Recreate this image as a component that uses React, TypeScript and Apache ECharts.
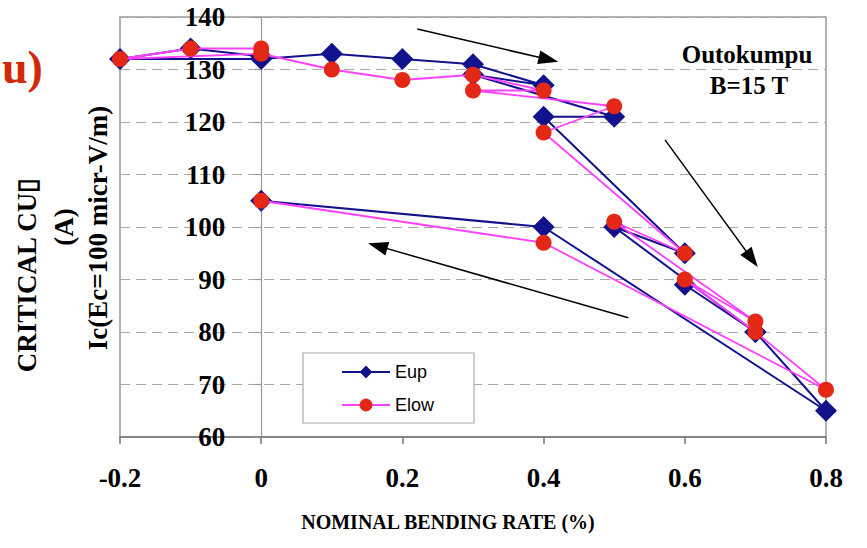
import React, { useEffect, useRef } from "react";
import * as echarts from "echarts";

// Measurement order (bending rate %, critical current A)
const eupX = [0, -0.1, -0.2, 0, 0.1, 0.2, 0.3, 0.4, 0.3, 0.5, 0.4, 0.6, 0.5, 0.7, 0.6, 0.7, 0.8, 0.4, 0];
const eupY = [132.5, 134, 132, 132, 133, 132, 131, 127, 129, 121, 121, 95, 100, 80, 89, 80, 65, 100, 105];
const elowX = [0, -0.1, -0.2, 0, 0.1, 0.2, 0.3, 0.4, 0.3, 0.5, 0.4, 0.6, 0.5, 0.7, 0.6, 0.7, 0.8, 0.4, 0];
const elowY = [134, 134, 132, 133, 130, 128, 129, 126, 126, 123, 118, 95, 101, 82, 90, 80, 69, 97, 105];

const xTicks = [-0.2, 0, 0.2, 0.4, 0.6, 0.8];
const xTickLabels = ["-0.2", "0", "0.2", "0.4", "0.6", "0.8"];
const yTicks = [60, 70, 80, 90, 100, 110, 120, 130, 140];

// Arrow annotations: tails and arrowhead centres in data units
const arrowTails = [
  [0.221, 137.7],
  [0.572, 116.6],
  [0.52, 82.7],
];
const arrowHeads = [
  [0.407, 131.9],
  [0.695, 93.9],
  [0.165, 96.4],
];

const SERIF = "'Liberation Serif', 'Times New Roman', serif";

const GRID_LEFT = 120;
const GRID_WIDTH = 706;

export default function App() {
  const ref = useRef<HTMLDivElement>(null);
  useEffect(() => {
    if (!ref.current) return;
    const chart = echarts.init(ref.current, null, { renderer: "svg" });
    const pairs = (xs: number[], ys: number[]) => xs.map((x, i) => [x, ys[i]]);
    const xMin = xTicks[0];
    const xMax = xTicks[xTicks.length - 1];
    // shift y axis so it sits on x = 0 (as in Excel crossing)
    const zeroOffset = ((0 - xMin) / (xMax - xMin)) * GRID_WIDTH;
    const centered = (text: string, x: number, y: number, size: number, extra: any = {}) => ({
      type: "text",
      x,
      y,
      ...extra,
      style: {
        text,
        fontFamily: SERIF,
        fontWeight: "bold",
        fontSize: size,
        fill: "#000",
        textAlign: "center",
        textVerticalAlign: "middle",
        align: "center",
        verticalAlign: "middle",
      },
    });
    const option: any = {
      animation: false,
      backgroundColor: "#fff",
      grid: {
        left: GRID_LEFT,
        top: 17,
        width: GRID_WIDTH,
        height: 420,
        show: true,
        borderColor: "#999",
        borderWidth: 1.5,
        backgroundColor: "transparent",
      },
      xAxis: {
        type: "value",
        min: xMin,
        max: xMax,
        interval: 0.2,
        axisLine: { show: true, onZero: false, lineStyle: { color: "#777", width: 1.5 } },
        axisTick: { show: true, length: 7, lineStyle: { color: "#777", width: 1.5 } },
        splitLine: { show: false },
        axisLabel: {
          margin: 27,
          fontFamily: SERIF,
          fontWeight: "bold",
          fontSize: 27,
          color: "#000",
          formatter: (v: number) => {
            const idx = xTicks.findIndex((t) => Math.abs(t - v) < 1e-6);
            return idx >= 0 ? xTickLabels[idx] : "";
          },
        },
      },
      yAxis: {
        type: "value",
        position: "left",
        offset: -zeroOffset,
        min: yTicks[0],
        max: yTicks[yTicks.length - 1],
        interval: 10,
        axisLine: { show: true, onZero: false, lineStyle: { color: "#999", width: 1.2 } },
        axisTick: { show: true, length: 7, lineStyle: { color: "#999", width: 1.2 } },
        splitLine: { show: true, lineStyle: { color: "#a8a8a8", width: 1.2, type: [10, 6] } },
        axisLabel: {
          margin: 36,
          fontFamily: SERIF,
          fontWeight: "bold",
          fontSize: 27,
          color: "#000",
        },
      },
      legend: {
        data: ["Eup", "Elow"],
        orient: "vertical",
        left: 303,
        top: 353,
        itemWidth: 48,
        itemHeight: 16,
        itemGap: 15,
        padding: [10, 40, 9, 38],
        backgroundColor: "#fff",
        borderColor: "#aaa",
        borderWidth: 1.2,
        textStyle: { fontFamily: "'Liberation Sans', Arial, sans-serif", fontSize: 18, color: "#000" },
      },
      series: [
        {
          name: "Eup",
          type: "line",
          data: pairs(eupX, eupY),
          symbol: "diamond",
          symbolSize: 22,
          itemStyle: { color: "#12128c" },
          lineStyle: { color: "#12128c", width: 2 },
          z: 2,
          markLine: {
            silent: true,
            symbol: ["none", "triangle"],
            symbolSize: [14, 20],
            label: { show: false },
            emphasis: { disabled: true },
            itemStyle: { color: "#000" },
            lineStyle: { color: "#000", width: 1.5, type: "solid" },
            data: arrowTails.map((t, i) => [{ coord: t }, { coord: arrowHeads[i] }]),
          },
        },
        {
          name: "Elow",
          type: "line",
          data: pairs(elowX, elowY),
          symbol: "circle",
          symbolSize: 16,
          itemStyle: { color: "#e32816" },
          lineStyle: { color: "#ff40ff", width: 1.8 },
          z: 3,
        },
      ],
      graphic: [
        {
          type: "text",
          left: 2,
          top: 44,
          style: { text: "u)", fontFamily: SERIF, fontWeight: "bold", fontSize: 46, fill: "#d02a0a" },
        },
        centered("CRITICAL CU\u25AF", 27, 275, 27, { rotation: Math.PI / 2 }),
        centered("(A)", 64, 227, 27, { rotation: Math.PI / 2 }),
        centered("Ic(Ec=100 micr-V/m)", 98, 228, 27, { rotation: Math.PI / 2 }),
        centered("Outokumpu", 747, 54, 25),
        centered("B=15 T", 749, 85, 25),
        centered("NOMINAL BENDING RATE (%)", 448, 522, 20),
      ],
    };
    chart.setOption(option);
    return () => chart.dispose();
  }, []);
  return <div ref={ref} style={{ width: 867, height: 548, position: "absolute", left: 0, top: 0 }} />;
}
